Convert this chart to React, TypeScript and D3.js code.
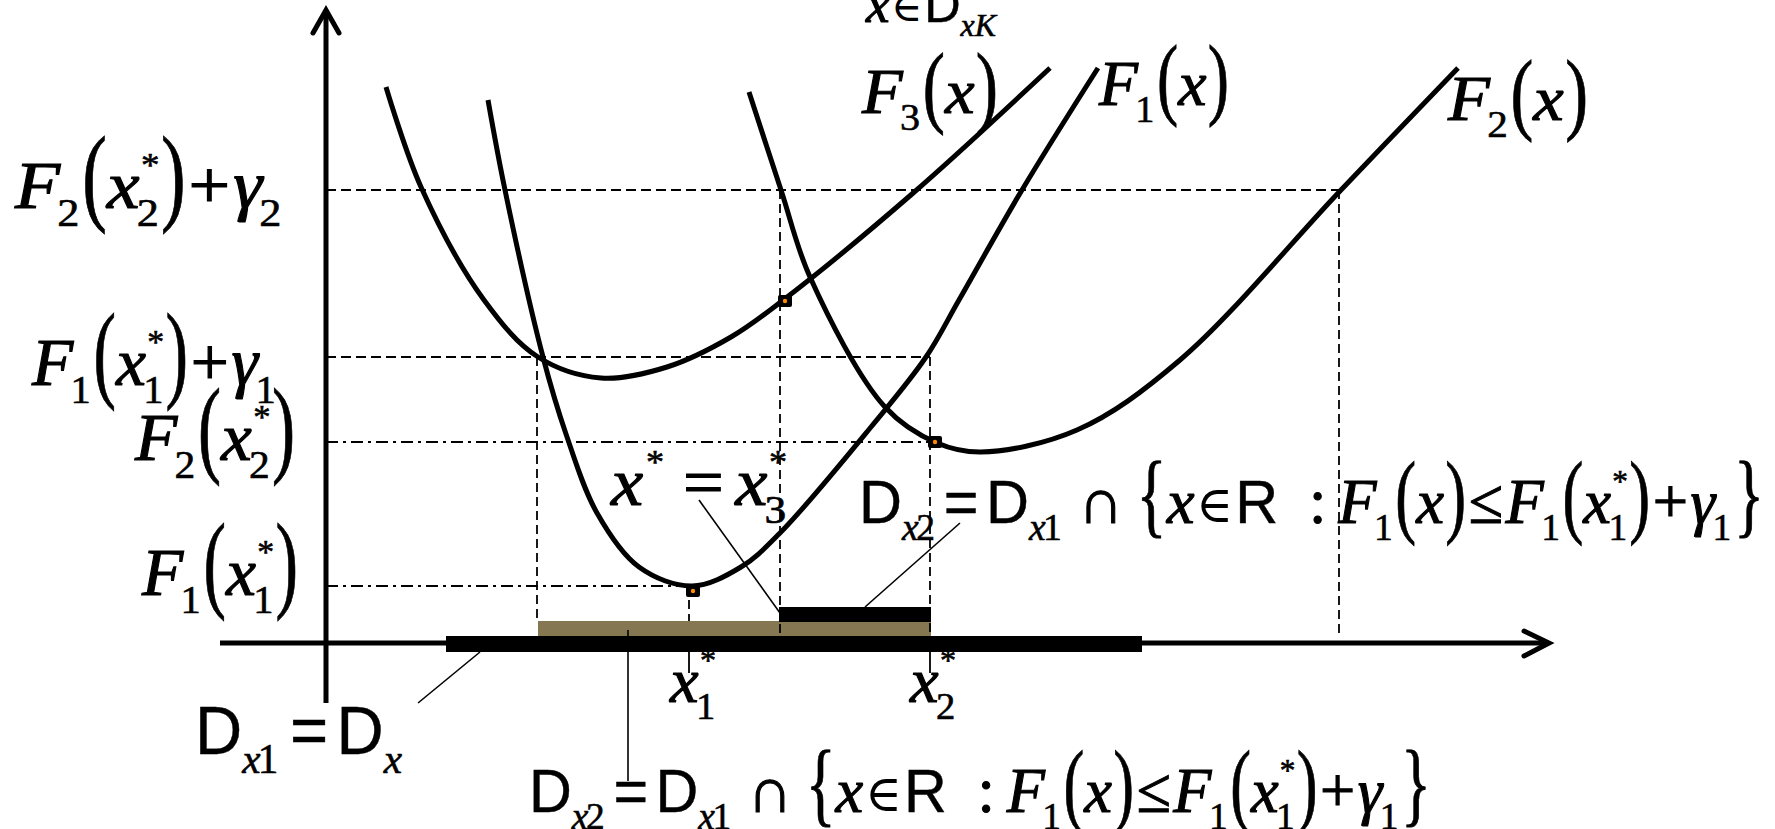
import React, { useEffect, useRef } from "react";
import * as d3 from "d3";

const W = 1775;
const H = 829;
const SERIF = "'Times New Roman', 'Liberation Serif', Tinos, 'DejaVu Serif', serif";
const SANS = "Arial, 'Liberation Sans', sans-serif";

// curve samples, in diagram units (x to the right, y upward)
const f3Curve: [number, number][] = [
  [6.0, 55.6], [9.5, 45.6], [15.8, 34.3], [21.2, 28.6], [27.5, 26.5],
  [34.1, 27.6], [40.5, 30.6], [45.6, 34.2], [58.6, 44.9], [72.4, 57.5],
];
const f1Curve: [number, number][] = [
  [16.2, 54.3], [17.9, 45.3], [21.7, 28.6], [24.0, 20.9], [27.1, 13.0],
  [31.3, 7.6], [36.6, 5.7], [41.5, 7.6], [45.4, 11.0], [54.5, 21.6],
  [60.0, 28.6], [63.3, 34.3], [69.6, 45.3], [77.2, 57.5],
];
const f2Curve: [number, number][] = [
  [42.3, 55.1], [45.5, 45.3], [48.4, 36.6], [55.9, 23.6], [61.1, 20.0],
  [65.5, 19.1], [75.1, 21.3], [85.4, 28.3], [101.5, 45.3], [113.2, 57.5],
];

// levels: [y, x end]
const dashedLevels: [number, number][] = [[45.3, 101.3], [28.6, 60.4]];
const dashDotLevels: [number, number][] = [[20.1, 60.9], [5.7, 36.4]];
// vertical guides: [x, y top, y bottom]
const dashedDrops: [number, number, number][] = [
  [21.1, 28.6, 2.2], [45.4, 45.3, 0.7], [60.4, 28.6, 0.7], [101.3, 45.3, 0.8], [36.3, 5.7, 2.2],
];
const tickXs = [36.3, 60.4];
const tickRange: [number, number] = [-0.9, -3.0];
const markerPts: [number, number][] = [[36.7, 5.2], [45.9, 34.2], [60.9, 20.1]];
// sets on the axis: [x from, x to, y top, y bottom]
const domainDx: [number, number, number, number] = [12.0, 81.6, 0.7, -0.9];
const domainDx2: [number, number, number, number] = [21.2, 60.5, 2.2, 0.7];
const domainDx3: [number, number, number, number] = [45.3, 60.5, 3.6, 2.1];
const leaderLines: [number, number][][] = [
  [[37.3, 14.3], [45.4, 3.0]],
  [[63.4, 12.0], [53.9, 3.6]],
  [[9.2, -6.0], [15.4, -0.9]],
  [[30.2, 1.3], [30.2, -13.8]],
];
const xAxisRange: [number, number] = [-10.6, 122.3];
const yAxisRange: [number, number] = [-6.0, 63.3];

type Tok = [string, any];

const dx2Set: Tok[] = [
  ["a", "D"], ["bi", "x"], ["b", "2"], ["g", 0.12], ["a", "="], ["g", 0.12], ["a", "D"], ["bi", "x"], ["b", "1"],
  ["g", 0.2], ["r", "∩"], ["g", 0.15], ["p", "{"], ["i", "x"], ["e", "∈"], ["a", "R"], ["g", 0.45], ["r", ":"],
  ["g", 0.15], ["i", "F"], ["b", "1"], ["p", "("], ["i", "x"], ["p", ")"], ["r", "≤"], ["i", "F"], ["b", "1"],
  ["p", "("], ["i", "x"], ["ss", "*1"], ["p", ")"], ["r", "+"], ["i", "γ"], ["b", "1"], ["p", "}"],
];

const labels: { toks: Tok[]; x: number; y: number; size: number; width: number; ps: number }[] = [
  { toks: [["i", "F"], ["b", "2"], ["p", "("], ["i", "x"], ["ss", "*2"], ["p", ")"], ["r", "+"], ["i", "γ"], ["b", "2"]], x: 15, y: 208, size: 67, width: 268, ps: 1.6 },
  { toks: [["i", "F"], ["b", "1"], ["p", "("], ["i", "x"], ["ss", "*1"], ["p", ")"], ["r", "+"], ["i", "γ"], ["b", "1"]], x: 32, y: 385, size: 67, width: 245, ps: 1.6 },
  { toks: [["i", "F"], ["b", "2"], ["p", "("], ["i", "x"], ["ss", "*2"], ["p", ")"]], x: 135, y: 460, size: 67, width: 160, ps: 1.6 },
  { toks: [["i", "F"], ["b", "1"], ["p", "("], ["i", "x"], ["ss", "*1"], ["p", ")"]], x: 142, y: 595, size: 67, width: 156, ps: 1.6 },
  { toks: [["i", "x"], ["sp", "*"], ["g", 0.22], ["r", "="], ["g", 0.12], ["i", "x"], ["ss", "*3"]], x: 611, y: 505, size: 67, width: 176, ps: 1 },
  { toks: [["i", "x"], ["ss", "*1"]], x: 670, y: 702, size: 64, width: 46, ps: 1 },
  { toks: [["i", "x"], ["ss", "*2"]], x: 910, y: 702, size: 64, width: 46, ps: 1 },
  { toks: [["i", "F"], ["b", "3"], ["p", "("], ["i", "x"], ["p", ")"]], x: 862, y: 113, size: 64, width: 136, ps: 1.42 },
  { toks: [["i", "F"], ["b", "1"], ["p", "("], ["i", "x"], ["p", ")"]], x: 1099, y: 105, size: 64, width: 130, ps: 1.42 },
  { toks: [["i", "F"], ["b", "2"], ["p", "("], ["i", "x"], ["p", ")"]], x: 1448, y: 120, size: 64, width: 140, ps: 1.42 },
  { toks: dx2Set, x: 859, y: 523, size: 64, width: 905, ps: 1.45 },
  { toks: dx2Set, x: 529, y: 812, size: 64, width: 902, ps: 1.45 },
  { toks: [["a", "D"], ["bi", "x"], ["b", "1"], ["g", 0.15], ["a", "="], ["g", 0.12], ["a", "D"], ["bi", "x"]], x: 195, y: 754, size: 72, width: 207, ps: 1 },
  { toks: [["i", "x"], ["e", "∈"], ["a", "D"], ["bi", "x"], ["bi", "K"]], x: 866, y: 22, size: 52, width: 130, ps: 1 },
];

function drawMath(root: any, lab: (typeof labels)[number]) {
  const g = root.append("g");
  const s = lab.size;
  let cx = 0;
  const put = (t: string, size: number, family: string, italic: boolean, dx: number, dy: number, sy = 1, sw = 1) => {
    const el = g.append("text")
      .attr("style", `font-family: ${family}; font-size: ${size}px; font-style: ${italic ? "italic" : "normal"}`)
      .attr("fill", "#000")
      .attr("stroke", "#000")
      .attr("stroke-width", (size > 45 ? 1.1 : 0.6) * sw)
      .text(t);
    if (sy !== 1) el.attr("transform", `translate(${cx + dx},${dy}) scale(1,${sy})`);
    else el.attr("x", cx + dx).attr("y", dy);
    return (el.node() as SVGTextElement).getComputedTextLength();
  };
  lab.toks.forEach(([k, t]) => {
    if (k === "g") { cx += t * s; return; }
    if (k === "i") cx += put(t, s, SERIF, true, 0, 0);
    else if (k === "r") cx += put(t, s, SERIF, false, 0.04 * s, 0) + 0.08 * s;
    else if (k === "e") cx += put(t, s * 0.8, SERIF, false, 0.03 * s, -0.02 * s, 1, 0) + 0.06 * s;
    else if (k === "a") cx += put(t, s * 0.95, SANS, false, 0, 0, 1, 0.4);
    else if (k === "b") cx += put(t, s * 0.6, SERIF, false, -0.04 * s, 0.27 * s) - 0.02 * s;
    else if (k === "bi") cx += put(t, s * 0.6, SERIF, true, 0, 0.26 * s);
    else if (k === "p") cx += put(t, s, SERIF, false, 0.02 * s, 0.05 * s, lab.ps, 0.5) + 0.02 * s;
    else if (k === "sp") cx += put(t, s * 0.5, SERIF, false, 0.04 * s, -0.48 * s) + 0.04 * s;
    else if (k === "ss") {
      const w1 = put(t.slice(1), s * 0.6, SERIF, false, -0.04 * s, 0.27 * s);
      const w2 = put(t[0], s * 0.5, SERIF, false, 0.02 * s, -0.48 * s);
      cx += Math.max(w1 - 0.04 * s, w2 + 0.02 * s);
    }
  });
  g.attr("transform", `translate(${lab.x},${lab.y}) scale(${lab.width / cx},1)`);
}

export default function App() {
  const ref = useRef<SVGSVGElement>(null);

  useEffect(() => {
    document.body.style.margin = "0";
    const svg = d3.select(ref.current);
    svg.selectAll("*").remove();

    const x = d3.scaleLinear().domain([0, 10]).range([326, 426]);
    const y = d3.scaleLinear().domain([0, 10]).range([643, 543]);

    const rect = (d: [number, number, number, number], fill: string) =>
      svg.append("rect")
        .attr("x", x(d[0])).attr("y", y(d[2]))
        .attr("width", x(d[1]) - x(d[0])).attr("height", y(d[3]) - y(d[2]))
        .attr("fill", fill);

    // sets on the axis
    rect(domainDx, "#000");
    rect(domainDx2, "#857752");
    rect(domainDx3, "#000");

    // guide lines
    svg.selectAll(".lvl").data(dashedLevels).enter().append("line")
      .attr("x1", x(0)).attr("x2", (d) => x(d[1]))
      .attr("y1", (d) => y(d[0])).attr("y2", (d) => y(d[0]))
      .attr("stroke", "#000").attr("stroke-width", 2.2).attr("stroke-dasharray", "10,5");
    svg.selectAll(".lvl2").data(dashDotLevels).enter().append("line")
      .attr("x1", x(0)).attr("x2", (d) => x(d[1]))
      .attr("y1", (d) => y(d[0])).attr("y2", (d) => y(d[0]))
      .attr("stroke", "#000").attr("stroke-width", 1.8).attr("stroke-dasharray", "12,5,3,5");
    svg.selectAll(".drop").data(dashedDrops).enter().append("line")
      .attr("x1", (d) => x(d[0])).attr("x2", (d) => x(d[0]))
      .attr("y1", (d) => y(d[1])).attr("y2", (d) => y(d[2]))
      .attr("stroke", "#000").attr("stroke-width", 1.8).attr("stroke-dasharray", "9,5");
    svg.selectAll(".tick").data(tickXs).enter().append("line")
      .attr("x1", (d) => x(d)).attr("x2", (d) => x(d))
      .attr("y1", y(tickRange[0])).attr("y2", y(tickRange[1]))
      .attr("stroke", "#000").attr("stroke-width", 1.8);
    svg.selectAll(".leader").data(leaderLines).enter().append("line")
      .attr("x1", (d) => x(d[0][0])).attr("y1", (d) => y(d[0][1]))
      .attr("x2", (d) => x(d[1][0])).attr("y2", (d) => y(d[1][1]))
      .attr("stroke", "#000").attr("stroke-width", 1.6);

    // curves
    const line = d3.line<[number, number]>()
      .x((d) => x(d[0])).y((d) => y(d[1]))
      .curve(d3.curveCatmullRom.alpha(0.5));
    [f3Curve, f1Curve, f2Curve].forEach((c) => {
      svg.append("path").attr("d", line(c)).attr("fill", "none")
        .attr("stroke", "#000").attr("stroke-width", 5);
    });

    // markers
    const m = svg.selectAll(".mk").data(markerPts).enter().append("g")
      .attr("transform", (d) => `translate(${x(d[0])},${y(d[1])})`);
    m.append("rect").attr("x", -7).attr("y", -6).attr("width", 14).attr("height", 12)
      .attr("rx", 2).attr("fill", "#000");
    m.append("circle").attr("r", 2.2).attr("fill", "#ff8c00");

    // axes
    svg.append("line").attr("x1", x(xAxisRange[0])).attr("x2", x(xAxisRange[1]))
      .attr("y1", y(0)).attr("y2", y(0)).attr("stroke", "#000").attr("stroke-width", 5);
    svg.append("line").attr("x1", x(0)).attr("x2", x(0))
      .attr("y1", y(yAxisRange[0])).attr("y2", y(yAxisRange[1])).attr("stroke", "#000").attr("stroke-width", 5);
    const tx = x(xAxisRange[1]);
    const ty = y(yAxisRange[1]);
    svg.append("path").attr("d", `M${tx - 25},${y(0) - 12}L${tx},${y(0)}L${tx - 25},${y(0) + 13}`)
      .attr("fill", "none").attr("stroke", "#000").attr("stroke-width", 5).attr("stroke-linecap", "round");
    svg.append("path").attr("d", `M${x(0) - 13},${ty + 23}L${x(0)},${ty}L${x(0) + 13},${ty + 23}`)
      .attr("fill", "none").attr("stroke", "#000").attr("stroke-width", 5).attr("stroke-linecap", "round");

    // labels
    labels.forEach((lab) => drawMath(svg, lab));
  }, []);

  return <svg ref={ref} width={W} height={H} style={{ display: "block", background: "#fff" }} />;
}
